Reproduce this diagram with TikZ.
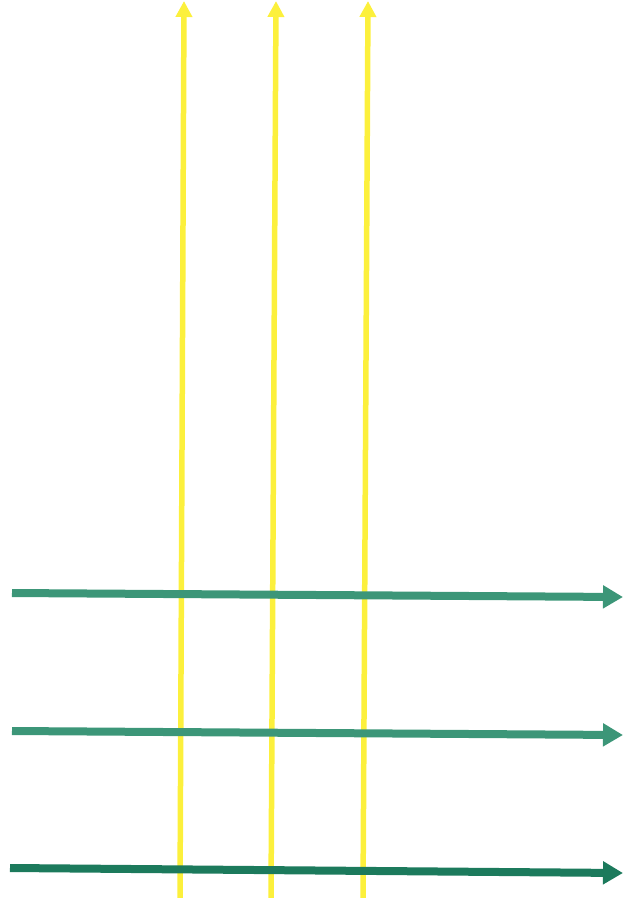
\documentclass[tikz,border=0pt]{standalone}
\usetikzlibrary{arrows.meta}
\definecolor{raylight}{RGB}{252,240,60}
\definecolor{beamgreen}{RGB}{60,150,120}
\definecolor{beamdark}{RGB}{28,122,92}
\begin{document}
\begin{tikzpicture}[x=1pt, y=-1pt,
  yellowray/.style={draw=raylight, line width=5.5pt, -{Triangle[length=16pt, width=16pt]}},
  greenray/.style={draw=beamgreen, line width=8pt, -{Triangle[length=20pt, width=22pt]}}]
  \useasboundingbox (0,0) rectangle (623,898);
  % vertical rays
  \coordinate (y1bot) at (180,898);  \coordinate (y1top) at (184,1);
  \coordinate (y2bot) at (271,898);  \coordinate (y2top) at (276,1);
  \coordinate (y3bot) at (363,898);  \coordinate (y3top) at (368,1);
  \draw[yellowray] (y1bot) -- (y1top);
  \draw[yellowray] (y2bot) -- (y2top);
  \draw[yellowray] (y3bot) -- (y3top);
  
  % horizontal beams
  \coordinate (g1left) at (12,593);  \coordinate (g1right) at (623,597);
  \coordinate (g2left) at (12,731);  \coordinate (g2right) at (623,735);
  \coordinate (g3left) at (10,868);  \coordinate (g3right) at (623,873);
  \draw[greenray] (g1left) -- (g1right);
  \draw[greenray] (g2left) -- (g2right);
  \draw[greenray, draw=beamdark, fill=beamdark] (g3left) -- (g3right);
\end{tikzpicture}
\end{document}
